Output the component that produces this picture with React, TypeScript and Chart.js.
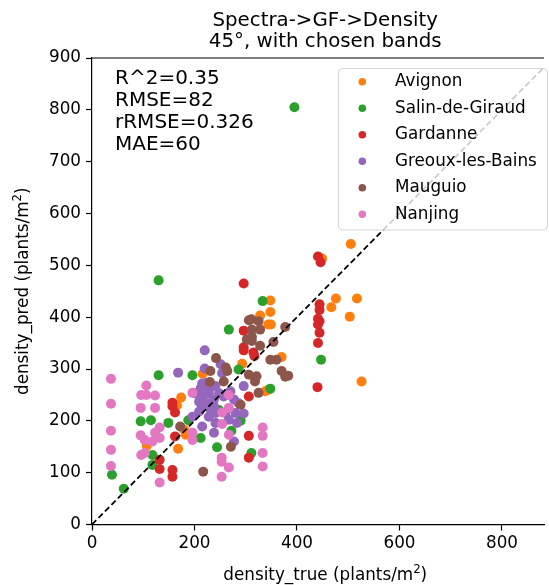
import React, { useEffect, useRef } from "react";
import { Chart, registerables } from "chart.js";

Chart.register(...registerables);

const SITES = ["Avignon", "Salin-de-Giraud", "Gardanne", "Greoux-les-Bains", "Mauguio", "Nanjing"];
const COLORS = ["#ff7f0e", "#2ca02c", "#d62728", "#9467bd", "#8c564b", "#e377c2"];

const AVIGNON: [number, number][] = [
  [505, 541], [449, 513], [476, 436], [517, 436], [467, 419], [503, 401], [526, 276],
  [348, 432], [348, 410], [328, 403], [349, 386], [344, 386], [370, 323], [293, 310],
  [216, 291], [174, 245], [166, 230], [180, 183], [183, 173], [168, 146], [107, 152],
  [338, 257], [344, 260],
];
const SALIN: [number, number][] = [
  [395, 805], [130, 471], [267, 376], [130, 288], [196, 288], [286, 299], [95, 199],
  [115, 201], [149, 196], [188, 201], [212, 167], [244, 149], [118, 134], [118, 115],
  [39, 96], [62, 69], [272, 181], [311, 138], [333, 431], [447, 318], [348, 262],
  [290, 200], [248, 221],
];
const GARDANNE: [number, number][] = [
  [296, 465], [296, 374], [296, 342], [296, 336], [441, 517], [446, 506], [444, 425],
  [444, 414], [441, 397], [444, 392], [441, 386], [444, 370], [441, 350], [440, 265],
  [315, 332], [317, 325], [306, 247], [306, 171], [306, 129], [157, 235], [157, 228],
  [162, 216], [162, 170], [132, 125], [132, 107], [157, 105], [157, 92],
];
const GREOUX: [number, number][] = [
  [220, 336], [220, 301], [168, 293], [215, 272], [222, 273], [212, 263], [228, 260],
  [241, 267], [248, 253], [257, 247], [270, 257], [277, 241], [286, 234], [238, 241],
  [225, 234], [215, 228], [209, 218], [232, 221], [241, 215], [260, 215], [280, 215],
  [196, 208], [215, 189], [228, 208], [267, 202], [241, 196], [283, 196], [238, 177],
  [277, 160], [296, 214], [296, 267], [254, 292], [251, 309], [202, 253], [215, 247],
  [228, 253], [209, 237], [238, 228],
];
const MAUGUIO: [number, number][] = [
  [306, 394], [311, 396], [325, 392], [302, 357], [312, 362], [242, 321], [261, 303],
  [264, 296], [231, 296], [230, 275], [257, 276], [172, 189], [271, 150], [217, 102],
  [377, 381], [312, 376], [328, 376], [354, 352], [328, 345], [312, 354], [348, 318],
  [360, 318], [370, 296], [383, 287], [377, 285], [306, 289], [321, 286], [318, 276],
  [290, 231], [325, 254],
];
const NANJING: [number, number][] = [
  [37, 281], [37, 233], [37, 181], [37, 144], [37, 113], [106, 268], [96, 250],
  [106, 250], [123, 249], [95, 225], [123, 225], [132, 187], [123, 177], [132, 167],
  [95, 172], [103, 163], [118, 160], [96, 134], [103, 138], [132, 81], [196, 254],
  [196, 177], [196, 163], [333, 187], [333, 171], [333, 138], [333, 112], [253, 129],
  [253, 121], [267, 110], [253, 92], [267, 173], [254, 216], [254, 194], [267, 250],
  [267, 225],
];
const SERIES = [AVIGNON, SALIN, GARDANNE, GREOUX, MAUGUIO, NANJING];

const X_TICKS = [0, 200, 400, 600, 800];
const Y_TICKS = [0, 100, 200, 300, 400, 500, 600, 700, 800, 900];
const IDENTITY_LINE = [0, 900];
const X_MAX = 882;
const Y_MAX = 900;
const FULL_RANGE = 900;

const TITLE_LINES = ["Spectra->GF->Density", "45°, with chosen bands"];
const STATS_LINES = ["R^2=0.35", "RMSE=82", "rRMSE=0.326", "MAE=60"];
const X_LABEL = ["density_true (plants/m", "2", ")"];
const Y_LABEL = ["density_pred (plants/m", "2", ")"];

const FONT = "'DejaVu Sans', sans-serif";
const TICK_SIZE = 16.8;

function drawSupLabel(ctx: CanvasRenderingContext2D, parts: string[], size: number) {
  const main = `${size}px ${FONT}`;
  const sup = `${size * 0.7}px ${FONT}`;
  ctx.font = main;
  const w0 = ctx.measureText(parts[0]).width;
  const w2 = ctx.measureText(parts[2]).width;
  ctx.font = sup;
  const w1 = ctx.measureText(parts[1]).width;
  const total = w0 + w1 + w2;
  let x = -total / 2;
  ctx.textBaseline = "alphabetic";
  ctx.textAlign = "left";
  ctx.font = main;
  ctx.fillText(parts[0], x, size * 0.36);
  x += w0;
  ctx.font = sup;
  ctx.fillText(parts[1], x, size * 0.36 - size * 0.42);
  x += w1;
  ctx.font = main;
  ctx.fillText(parts[2], x, size * 0.36);
}

const decorPlugin = {
  id: "decor",
  afterDraw(chart: any) {
    const ctx: CanvasRenderingContext2D = chart.ctx;
    const area = chart.chartArea;
    const ppu = (area.bottom - area.top) / Y_MAX;
    const axesCenter = area.left + (FULL_RANGE * ppu) / 2;
    ctx.save();
    // top spine
    ctx.strokeStyle = "#000";
    ctx.lineWidth = 1.2;
    ctx.beginPath();
    ctx.moveTo(area.left, area.top);
    ctx.lineTo(area.right, area.top);
    ctx.stroke();

    ctx.fillStyle = "#000";
    // title
    ctx.font = `19.8px ${FONT}`;
    ctx.textAlign = "center";
    ctx.textBaseline = "alphabetic";
    TITLE_LINES.forEach((t, i) => ctx.fillText(t, axesCenter, 26 + i * 20.5));

    // stats
    ctx.textAlign = "left";
    ctx.font = `20px ${FONT}`;
    STATS_LINES.forEach((t, i) => ctx.fillText(t, area.left + 23, area.top + 26.3 + i * 22));

    // legend
    const bx = 338.5, by = 68.5, bw = 209, bh = 161.5, r = 4;
    ctx.beginPath();
    ctx.moveTo(bx + r, by);
    ctx.lineTo(bx + bw - r, by);
    ctx.quadraticCurveTo(bx + bw, by, bx + bw, by + r);
    ctx.lineTo(bx + bw, by + bh - r);
    ctx.quadraticCurveTo(bx + bw, by + bh, bx + bw - r, by + bh);
    ctx.lineTo(bx + r, by + bh);
    ctx.quadraticCurveTo(bx, by + bh, bx, by + bh - r);
    ctx.lineTo(bx, by + r);
    ctx.quadraticCurveTo(bx, by, bx + r, by);
    ctx.closePath();
    ctx.fillStyle = "rgba(255,255,255,0.8)";
    ctx.fill();
    ctx.strokeStyle = "rgba(204,204,204,0.8)";
    ctx.lineWidth = 1;
    ctx.stroke();
    ctx.font = `${TICK_SIZE}px ${FONT}`;
    ctx.textBaseline = "middle";
    SITES.forEach((s, i) => {
      const cy = 81.7 + i * 26.5;
      ctx.fillStyle = COLORS[i];
      ctx.beginPath();
      ctx.arc(362.3, cy, 3.8, 0, Math.PI * 2);
      ctx.fill();
      ctx.fillStyle = "#000";
      ctx.fillText(s, 395, cy);
    });

    // axis labels
    ctx.fillStyle = "#000";
    ctx.save();
    ctx.translate(axesCenter, 574);
    drawSupLabel(ctx, X_LABEL, TICK_SIZE);
    ctx.restore();
    ctx.save();
    ctx.translate(22, (area.top + area.bottom) / 2);
    ctx.rotate(-Math.PI / 2);
    drawSupLabel(ctx, Y_LABEL, TICK_SIZE);
    ctx.restore();

    ctx.restore();
  },
};

export default function App() {
  const ref = useRef<HTMLCanvasElement>(null);
  useEffect(() => {
    const datasets: any[] = SERIES.map((pts, i) => ({
      type: "scatter",
      label: SITES[i],
      data: pts.map(([x, y]) => ({ x, y })),
      backgroundColor: COLORS[i],
      borderWidth: 0,
      pointRadius: 5,
      pointHoverRadius: 5,
      order: SERIES.length - i + 1,
    }));
    datasets.push({
      type: "line",
      label: "identity",
      data: IDENTITY_LINE.map((v) => ({ x: v, y: v })),
      borderColor: "#000",
      borderWidth: 1.8,
      borderDash: [6, 3.2],
      pointRadius: 0,
      fill: false,
      order: 0,
    });
    const tickFont = { family: FONT, size: TICK_SIZE };
    const chart = new Chart(ref.current!, {
      type: "scatter",
      data: { datasets },
      plugins: [decorPlugin],
      options: {
        responsive: false,
        animation: false,
        devicePixelRatio: 1,
        layout: { padding: { top: 58, right: 0, left: 0, bottom: 0 } },
        plugins: { legend: { display: false }, title: { display: false }, tooltip: { enabled: false } },
        scales: {
          x: {
            type: "linear",
            min: 0,
            max: X_MAX,
            afterBuildTicks: (s: any) => { s.ticks = X_TICKS.map((v) => ({ value: v })); },
            afterFit: (s: any) => { s.height = 60.5; },
            ticks: { font: tickFont, color: "#000", padding: 3, maxRotation: 0 },
            grid: { drawOnChartArea: false, drawTicks: true, tickLength: 6, tickColor: "#000", tickWidth: 1.2 },
            border: { display: true, color: "#000", width: 1.2 },
          },
          y: {
            type: "linear",
            min: 0,
            max: Y_MAX,
            afterBuildTicks: (s: any) => { s.ticks = Y_TICKS.map((v) => ({ value: v })); },
            afterFit: (s: any) => { s.width = 92; },
            ticks: { font: tickFont, color: "#000", padding: 5 },
            grid: { drawOnChartArea: false, drawTicks: true, tickLength: 6, tickColor: "#000", tickWidth: 1.2 },
            border: { display: true, color: "#000", width: 1.2 },
          },
        },
      } as any,
    });
    return () => chart.destroy();
  }, []);
  return (
    <div style={{ position: "fixed", left: 0, top: 0, width: 549, height: 585, background: "#fff" }}>
      <canvas ref={ref} width={549} height={585} style={{ display: "block", width: 549, height: 585 }} />
    </div>
  );
}
